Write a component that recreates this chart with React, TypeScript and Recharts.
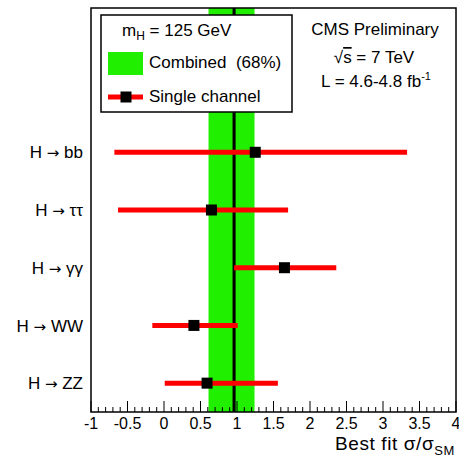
import React from "react";
import {
  ComposedChart,
  Scatter,
  ErrorBar,
  XAxis,
  YAxis,
  ReferenceArea,
} from "recharts";

// channels, top to bottom
const channels = ["H → bb", "H → ττ", "H → γγ", "H → WW", "H → ZZ"];
const rowPos = [4.5, 3.5, 2.5, 1.5, 0.5];
const bestFit = [1.25, 0.65, 1.65, 0.41, 0.59];
const lowBound = [-0.68, -0.63, 0.96, -0.16, 0.01];
const highBound = [3.33, 1.7, 2.36, 1.01, 1.56];

// combined result
const combined = 0.96;
const combinedLow = 0.61;
const combinedHigh = 1.24;
const lineHalfWidth = 0.021; // half of the ~3px black line, in axis units

const majorTicks = [-1, -0.5, 0, 0.5, 1, 1.5, 2, 2.5, 3, 3.5, 4];
const tickLabels = ["-1", "-0.5", "0", "0.5", "1", "1.5", "2", "2.5", "3", "3.5", "4"];
const minorTicks = [
  -0.9, -0.8, -0.7, -0.6, -0.4, -0.3, -0.2, -0.1,
  0.1, 0.2, 0.3, 0.4, 0.6, 0.7, 0.8, 0.9,
  1.1, 1.2, 1.3, 1.4, 1.6, 1.7, 1.8, 1.9,
  2.1, 2.2, 2.3, 2.4, 2.6, 2.7, 2.8, 2.9,
  3.1, 3.2, 3.3, 3.4, 3.6, 3.7, 3.8, 3.9,
];

const FONT = "'Liberation Sans', Arial, Helvetica, sans-serif";
const GREEN = "#20f000";
const RED = "#ff0000";

const data = channels.map((name, i) => ({
  name,
  mu: bestFit[i],
  row: rowPos[i],
  err: [bestFit[i] - lowBound[i], highBound[i] - bestFit[i]],
}));

const allTicks = [...majorTicks, ...minorTicks].sort((a, b) => a - b);

const XTick = (props: any) => {
  const { x, y, payload } = props;
  const v = payload.value;
  const idx = majorTicks.findIndex((t) => Math.abs(t - v) < 1e-6);
  const major = idx >= 0;
  return (
    <g>
      <line x1={x} x2={x} y1={y} y2={y - (major ? 11 : 5)} stroke="#000" strokeWidth={1} />
      {major && (
        <text x={x} y={y + 17} textAnchor="middle" fontSize={16} fontFamily={FONT} fill="#000">
          {tickLabels[idx]}
        </text>
      )}
    </g>
  );
};

const YTick = (props: any) => {
  const { x, y, payload } = props;
  const idx = rowPos.findIndex((r) => Math.abs(r - payload.value) < 1e-6);
  const [head, tail] = channels[idx].split(" → ");
  return (
    <text x={x} y={y} dy="0.36em" textAnchor="end" fontSize={17} fontFamily={FONT} fill="#000">
      {head}{" "}
      <tspan fontFamily="'DejaVu Sans'" fontSize={15}>→</tspan>{" "}
      {tail}
    </text>
  );
};

const SquareMarker = (props: any) => {
  const { cx, cy } = props;
  return <rect x={cx - 5.5} y={cy - 5.5} width={11} height={11} fill="#000" />;
};

export default function App() {
  return (
    <div style={{ position: "absolute", left: 0, top: 0, width: 459, height: 460, background: "#fff" }}>
      <ComposedChart width={459} height={460} data={data} margin={{ top: 8, right: 3, bottom: 0, left: 0 }}>
        <XAxis
          type="number"
          dataKey="mu"
          domain={[-1, 4]}
          ticks={allTicks}
          interval={0}
          tick={<XTick />}
          tickLine={false}
          tickSize={0}
          tickMargin={0}
          axisLine={false}
          height={48}
          allowDataOverflow
        />
        <YAxis
          type="number"
          dataKey="row"
          domain={[0, 7]}
          ticks={rowPos}
          interval={0}
          tick={<YTick />}
          tickLine={false}
          tickSize={0}
          tickMargin={8}
          axisLine={false}
          width={91}
        />
        <ReferenceArea x1={combinedLow} x2={combinedHigh} y1={0} y2={7} fill={GREEN} fillOpacity={1} stroke="none" />
        <ReferenceArea
          x1={combined - lineHalfWidth}
          x2={combined + lineHalfWidth}
          y1={0}
          y2={7}
          fill="#000"
          fillOpacity={1}
          stroke="none"
        />
        <Scatter data={data} dataKey="mu" fill="#000" shape={<SquareMarker />} isAnimationActive={false}>
          <ErrorBar dataKey="err" direction="x" width={0} stroke={RED} strokeWidth={5} isAnimationActive={false} />
        </Scatter>
        <ReferenceArea x1={-1} x2={4} y1={0} y2={7} fill="none" stroke="#000" strokeWidth={1.5} />
      </ComposedChart>
      <svg
        width={459}
        height={460}
        style={{ position: "absolute", left: 0, top: 0, pointerEvents: "none" }}
        fontFamily={FONT}
      >
        <rect x={101} y={15} width={191} height={97} fill="#fff" stroke="#000" strokeWidth={1.5} />
        <text x={122} y={36} fontSize={17}>
          m<tspan fontSize={12} dy={4}>H</tspan>
          <tspan dy={-4}> = 125 GeV</tspan>
        </text>
        <rect x={108} y={52} width={35} height={23} fill={GREEN} />
        <text x={149} y={68} fontSize={17}>{"Combined\u00A0\u00A0(68%)"}</text>
        <line x1={108} x2={143} y1={97} y2={97} stroke={RED} strokeWidth={5} />
        <rect x={120.5} y={91.5} width={11} height={11} fill="#000" />
        <text x={149} y={102} fontSize={17}>Single channel</text>

        <text x={375} y={35} fontSize={17} textAnchor="middle">CMS Preliminary</text>
        <text x={374} y={63} fontSize={17} textAnchor="middle">
          √<tspan style={{ textDecoration: "overline" }}>s</tspan> = 7 TeV
        </text>
        <text x={376} y={87} fontSize={17} textAnchor="middle">
          L = 4.6-4.8 fb<tspan fontSize={11} dy={-7}>-1</tspan>
        </text>

        <text x={455} y={450} fontSize={19} letterSpacing={0.6} textAnchor="end">
          Best fit σ/σ<tspan fontSize={13} dy={5}>SM</tspan>
        </text>
      </svg>
    </div>
  );
}
